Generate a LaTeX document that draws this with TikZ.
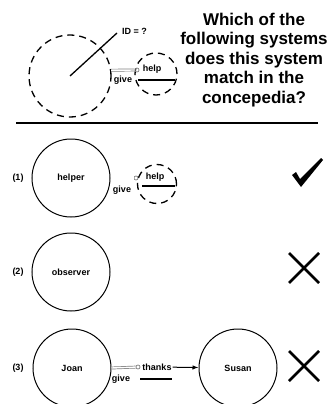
\documentclass[tikz,border=0pt]{standalone}
\usepackage{fontspec}
\setmainfont{Liberation Sans}
\usetikzlibrary{arrows.meta}

\begin{document}
\begin{tikzpicture}[x=1pt,y=-1pt,
    ring/.style={circle,draw,line width=1pt,minimum size=78pt,inner sep=0pt,font=\fontsize{9}{10}\selectfont\bfseries},
    qring/.style={circle,draw,line width=1.3pt,dash pattern=on 7pt off 5pt,inner sep=0pt},
    lbl/.style={font=\fontsize{9}{10}\selectfont\bfseries,inner sep=1pt},
    givewire/.style={draw=gray,double=white,line width=0.7pt,double distance=1.4pt},
    tipring/.style={circle,draw=gray,line width=0.7pt,minimum size=4pt,inner sep=0pt},
    verdict/.style={line width=2.6pt}]
    \useasboundingbox (0,0) rectangle (331,404);
    % Query system:
    \node[qring,minimum size=82pt] (sys) at (70,76) {};
    \coordinate (idend) at (117,33);
    \draw[line width=1.3pt] (sys.center) -- (idend);
    \node[lbl,anchor=west] (idq) at (121,31) {ID = ?};
    \node[qring,minimum size=42pt] (helpq) at (156,74) {};
    \node[tipring] (tip0) at (137,70) {};
    \draw[givewire] (sys.8) -- (tip0);
    \node[lbl] (help0) at (152,69) {help};
    \node[lbl] (give0) at (123,80) {give};
    \coordinate (ula0) at (138,80);
    \coordinate (ulb0) at (175,80);
    \draw[line width=1.2pt] (ula0) -- (ulb0);
    \node[align=center,font=\fontsize{17}{19.5}\selectfont\bfseries] (question) at (254,60)
        {Which of the\\following systems\\does this system\\match in the\\concepedia?};
    \coordinate (rulea) at (16,123);
    \coordinate (ruleb) at (318,123);
    \draw[line width=2pt] (rulea) -- (ruleb);
    % (1) helper:
    \node[lbl] (n1) at (18,178) {(1)};
    \node[ring] (helper) at (71,178) {helper};
    \node[qring,minimum size=39pt] (helpa) at (157,184) {};
    \node[tipring] (tip1) at (136,178) {};
    \draw[givewire] (helper.east) -- (tip1);
    \node[lbl] (help1) at (155,177) {help};
    \node[lbl] (give1) at (122,190) {give};
    \coordinate (ula1) at (142,186);
    \coordinate (ulb1) at (175,186);
    \draw[line width=1.2pt] (ula1) -- (ulb1);
    \fill (292,175) -- (296,172) -- (300,179) -- (321,158) -- (323,160) -- (301,187) -- cycle;
    % (2) observer:
    \node[lbl] (n2) at (18,272) {(2)};
    \node[ring] (observer) at (71,272) {observer};
    \draw[verdict] (289,253) -- (319,283) (289,283) -- (319,253);
    % (3) Joan and Susan:
    \node[lbl] (n3) at (18,368) {(3)};
    \node[ring] (joan) at (72,368) {Joan};
    \node[ring] (susan) at (238,368) {Susan};
    \node[tipring] (tip3) at (138,367) {};
    \draw[givewire] (joan.east) -- (tip3);
    \node[lbl] (thanks) at (157,367) {thanks};
    \draw[line width=1pt,-{Latex[length=6pt]}] (thanks) -- (susan);
    \node[lbl] (give3) at (121,379) {give};
    \coordinate (ula3) at (140,379);
    \coordinate (ulb3) at (172,379);
    \draw[line width=1.2pt] (ula3) -- (ulb3);
    \draw[verdict] (289,351) -- (319,381) (289,381) -- (319,351);
\end{tikzpicture}
\end{document}
